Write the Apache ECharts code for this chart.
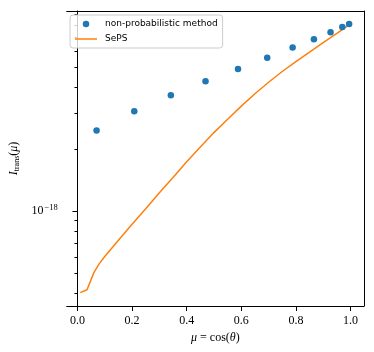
<!DOCTYPE html>
<html>
<head>
<meta charset="utf-8">
<script src="https://cdn.jsdelivr.net/npm/echarts@6/dist/echarts.min.js"></script>
<style>
  html, body { margin: 0; padding: 0; background: #fff; }
  #chart { width: 374px; height: 352px; }
</style>
</head>
<body>
<div id="chart"></div>
<script>
// non-probabilistic method (scatter)
var muPoints = [0.070, 0.208, 0.342, 0.469, 0.588, 0.695, 0.788, 0.866, 0.927, 0.970, 0.995];
var iPoints = [2.47e-18, 3.06e-18, 3.66e-18, 4.28e-18, 4.91e-18, 5.57e-18, 6.23e-18, 6.84e-18, 7.39e-18, 7.85e-18, 8.11e-18];

// SePS (line)
var muLine = [0.01, 0.035, 0.06, 0.08, 0.10, 0.13, 0.16, 0.20, 0.25, 0.30, 0.35, 0.40,
  0.45, 0.50, 0.55, 0.60, 0.65, 0.70, 0.75, 0.80, 0.85, 0.90, 0.95, 0.995];
var iLine = [4.03e-19, 4.16e-19, 5.04e-19, 5.57e-19, 6.03e-19, 6.73e-19, 7.50e-19, 8.66e-19,
  1.03e-18, 1.23e-18, 1.46e-18, 1.74e-18, 2.05e-18, 2.41e-18, 2.80e-18, 3.24e-18,
  3.72e-18, 4.23e-18, 4.77e-18, 5.33e-18, 5.92e-18, 6.58e-18, 7.30e-18, 8.03e-18];

var xTicks = [0.0, 0.2, 0.4, 0.6, 0.8, 1.0];
var yMajorTicks = [1e-18];
var yMinorTicks = [4e-19, 5e-19, 6e-19, 7e-19, 8e-19, 9e-19,
  2e-18, 3e-18, 4e-18, 5e-18, 6e-18, 7e-18, 8e-18, 9e-18];
var xRange = [-0.0395, 1.0495];
var yRange = [3.47e-19, 9.38e-18];

// log axis drawn on a linear value axis in log10 units
var lg = function (v) { return Math.log10(v); };
var pairs = function (xs, ys) {
  return xs.map(function (x, i) { return [x, lg(ys[i])]; });
};

var chart = echarts.init(document.getElementById('chart'));
var black = '#000';
var serif = 'Liberation Serif';

var yBase = {
  type: 'value',
  min: lg(yRange[0]),
  max: lg(yRange[1]),
  splitLine: { show: false },
  axisLine: { show: true, lineStyle: { color: black, width: 1 } }
};
var xBase = {
  type: 'value',
  min: xRange[0],
  max: xRange[1],
  splitLine: { show: false },
  axisLine: { show: true, lineStyle: { color: black, width: 1 } }
};

var option = {
  animation: false,
  grid: { left: 66, right: 10, top: 11, bottom: 46 },
  legend: {
    orient: 'vertical',
    left: 70,
    top: 15,
    padding: [3, 5, 3, 5],
    itemGap: 3,
    itemWidth: 22,
    itemHeight: 6.5,
    borderColor: '#cccccc',
    borderWidth: 1,
    borderRadius: 3,
    backgroundColor: 'rgba(255,255,255,0.8)',
    textStyle: { fontFamily: 'DejaVu Sans', fontSize: 9, color: '#000', lineHeight: 12, padding: [0, 0, 0, 3] },
    data: [
      { name: 'non-probabilistic method', icon: 'circle' },
      { name: 'SePS', icon: 'path://M0,0L22,0L22,1.5L0,1.5Z' }
    ]
  },
  xAxis: [
    Object.assign({}, xBase, {
      position: 'bottom',
      name: '{it|μ} = cos({it|θ})',
      nameLocation: 'middle',
      nameGap: 23,
      nameTextStyle: {
        fontFamily: serif, fontSize: 12, color: black,
        rich: { it: { fontFamily: serif, fontStyle: 'italic', fontSize: 12 } }
      },
      axisTick: { show: true, inside: false, length: 5, customValues: xTicks, lineStyle: { color: black } },
      axisLabel: {
        customValues: xTicks, margin: 9, color: black, fontFamily: serif, fontSize: 12,
        formatter: function (v) { return v.toFixed(1); }
      }
    }),
    Object.assign({}, xBase, {
      position: 'top',
      axisTick: { show: false },
      axisLabel: { show: false }
    })
  ],
  yAxis: [
    Object.assign({}, yBase, {
      position: 'left',
      name: '{it|I}{sub|trans}({it|μ})',
      nameLocation: 'middle',
      nameGap: 44,
      nameTextStyle: {
        fontFamily: serif, fontSize: 12, color: black,
        rich: {
          it: { fontFamily: serif, fontStyle: 'italic', fontSize: 12 },
          sub: { fontFamily: serif, fontSize: 8, padding: [5, 0, 0, 0] }
        }
      },
      axisTick: { show: true, inside: false, length: 5, customValues: yMajorTicks.map(lg), lineStyle: { color: black } },
      axisLabel: {
        customValues: yMajorTicks.map(lg), margin: 9, color: black, fontFamily: serif, fontSize: 12,
        formatter: function (v) { return '10{sup|−' + Math.abs(Math.round(v)) + '}'; },
        rich: { sup: { fontFamily: serif, fontSize: 8.5, padding: [0, 0, 7, 1] } }
      }
    }),
    Object.assign({}, yBase, {
      position: 'left',
      axisLine: { show: false },
      axisTick: { show: true, inside: false, length: 3, customValues: yMinorTicks.map(lg), lineStyle: { color: black } },
      axisLabel: { show: false }
    }),
    Object.assign({}, yBase, {
      position: 'right',
      axisTick: { show: false },
      axisLabel: { show: false }
    })
  ],
  series: [
    {
      name: 'non-probabilistic method',
      type: 'scatter',
      xAxisIndex: 0,
      yAxisIndex: 0,
      symbol: 'circle',
      symbolSize: 6.5,
      itemStyle: { color: '#1f77b4', opacity: 1 },
      data: pairs(muPoints, iPoints),
      z: 3
    },
    {
      name: 'SePS',
      type: 'line',
      xAxisIndex: 0,
      yAxisIndex: 0,
      showSymbol: false,
      symbol: 'none',
      lineStyle: { color: '#ff7f0e', width: 1.5 },
      itemStyle: { color: '#ff7f0e' },
      data: pairs(muLine, iLine),
      z: 2
    }
  ]
};

chart.setOption(option);
</script>
</body>
</html>
